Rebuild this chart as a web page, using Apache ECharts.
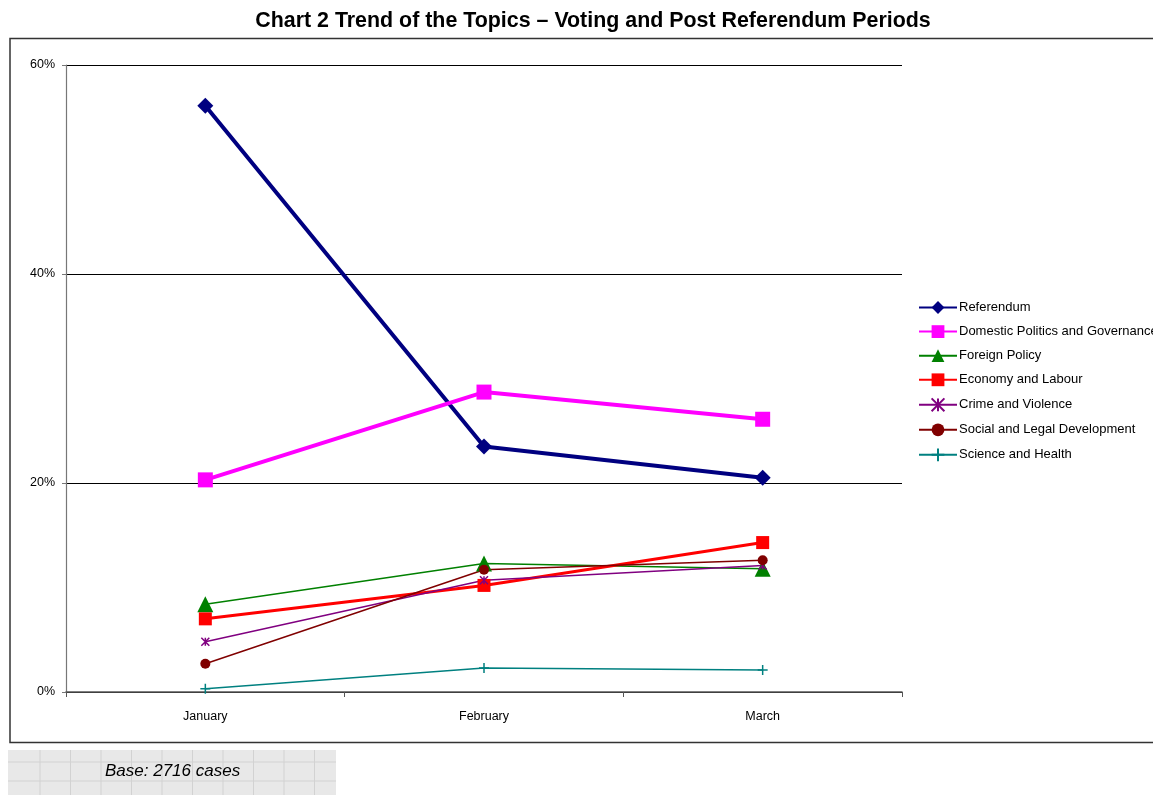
<!DOCTYPE html>
<html>
<head>
<meta charset="utf-8">
<script src="https://cdn.jsdelivr.net/npm/echarts@6/dist/echarts.min.js"></script>
<style>
  html, body { margin: 0; padding: 0; background: #fff; }
  #chart { width: 1153px; height: 795px; }
</style>
</head>
<body>
<div id="chart"></div>
<script>
// Share of coverage per topic, in percent
const months = ['January', 'February', 'March'];
const referendum = [56.1, 23.5, 20.5];
const domesticPolitics = [20.3, 28.7, 26.1];
const foreignPolicy = [8.4, 12.3, 11.8];
const economyLabour = [7.0, 10.2, 14.3];
const crimeViolence = [4.8, 10.7, 12.1];
const socialLegal = [2.7, 11.7, 12.6];
const scienceHealth = [0.3, 2.3, 2.1];
const yTicks = [0, 20, 40, 60];

const FONT = '"Liberation Sans Narrow", "Arial Narrow", "Liberation Sans", Arial, sans-serif';

const asteriskPath = 'path://M0,0L10,10M10,0L0,10M5,0L5,10';
const plusPath = 'path://M0,5L10,5M5,0L5,10';

function lineSeries(name, data, color, width, symbol, size, stroked) {
  return {
    name: name,
    type: 'line',
    data: data,
    symbol: symbol,
    symbolSize: size,
    showAllSymbol: true,
    lineStyle: { color: color, width: width },
    itemStyle: stroked
      ? { color: color, borderColor: color, borderWidth: 1.5 }
      : { color: color, borderWidth: 0 },
    emphasis: { disabled: true },
    animation: false
  };
}

// Grid lines of the base note box
const boxLines = [];
for (let x = 40; x < 336; x += 30.5) {
  boxLines.push({ type: 'line', shape: { x1: x, y1: 750, x2: x, y2: 795 }, style: { stroke: '#d2d2d2', lineWidth: 1 }, silent: true });
}
[762, 781].forEach(function (y) {
  boxLines.push({ type: 'line', shape: { x1: 8, y1: y, x2: 336, y2: y }, style: { stroke: '#d2d2d2', lineWidth: 1 }, silent: true });
});

const chart = echarts.init(document.getElementById('chart'), null, { renderer: 'canvas' });
chart.setOption({
  backgroundColor: '#ffffff',
  animation: false,
  title: {
    text: 'Chart 2 Trend of the Topics \u2013 Voting and Post Referendum Periods',
    left: 588,
    textAlign: 'center',
    top: 6,
    textStyle: { fontFamily: FONT, fontWeight: 'bold', fontSize: 21.4, color: '#000' }
  },
  grid: { left: 66, right: 251, top: 65, bottom: 103, containLabel: false },
  legend: {
    orient: 'vertical',
    left: 918,
    top: 301,
    padding: 0,
    itemWidth: 38,
    itemHeight: 16,
    itemGap: 11.1,
    textStyle: { fontFamily: FONT, fontSize: 13, color: '#000', padding: [0, 0, 0, -3] },
    data: ['Referendum', 'Domestic Politics and Governance', 'Foreign Policy', 'Economy and Labour',
      'Crime and Violence', 'Social and Legal Development', 'Science and Health']
  },
  xAxis: {
    type: 'category',
    data: months,
    boundaryGap: true,
    axisLine: { lineStyle: { color: '#555', width: 1.5 } },
    axisTick: { show: true, length: 5, lineStyle: { color: '#555' } },
    axisLabel: { fontFamily: FONT, fontSize: 12.5, color: '#000', margin: 18 }
  },
  yAxis: {
    type: 'value',
    min: yTicks[0],
    max: yTicks[yTicks.length - 1],
    interval: yTicks[1] - yTicks[0],
    axisLine: { show: true, lineStyle: { color: '#777', width: 1.2 } },
    axisTick: { show: true, length: 4, lineStyle: { color: '#777' } },
    axisLabel: { fontFamily: FONT, fontSize: 12.5, color: '#000', margin: 11, formatter: '{value}%' },
    splitLine: { show: true, lineStyle: { color: '#000', width: 1 } }
  },
  series: [
    lineSeries('Referendum', referendum, '#000080', 4, 'diamond', 16, false),
    lineSeries('Domestic Politics and Governance', domesticPolitics, '#FF00FF', 4, 'rect', 15, false),
    lineSeries('Foreign Policy', foreignPolicy, '#008000', 1.5, 'triangle', 16, false),
    lineSeries('Economy and Labour', economyLabour, '#FF0000', 3, 'rect', 13, false),
    lineSeries('Crime and Violence', crimeViolence, '#800080', 1.5, asteriskPath, 8, true),
    lineSeries('Social and Legal Development', socialLegal, '#800000', 1.5, 'circle', 10, false),
    lineSeries('Science and Health', scienceHealth, '#008080', 1.5, plusPath, 10, true)
  ],
  graphic: [
    {
      type: 'rect',
      shape: { x: 10, y: 38.5, width: 1180, height: 704 },
      style: { fill: 'none', stroke: '#333', lineWidth: 1.5 },
      silent: true, z: -1
    },
    {
      type: 'rect',
      shape: { x: 8, y: 750, width: 328, height: 45 },
      style: { fill: '#e8e8e8' },
      silent: true
    }
  ].concat(boxLines).concat([
    {
      type: 'text',
      left: 105,
      top: 763,
      style: { text: 'Base: 2716 cases', fontFamily: FONT, fontStyle: 'italic', fontSize: 17, fill: '#000' },
      silent: true
    }
  ])
});
</script>
</body>
</html>
